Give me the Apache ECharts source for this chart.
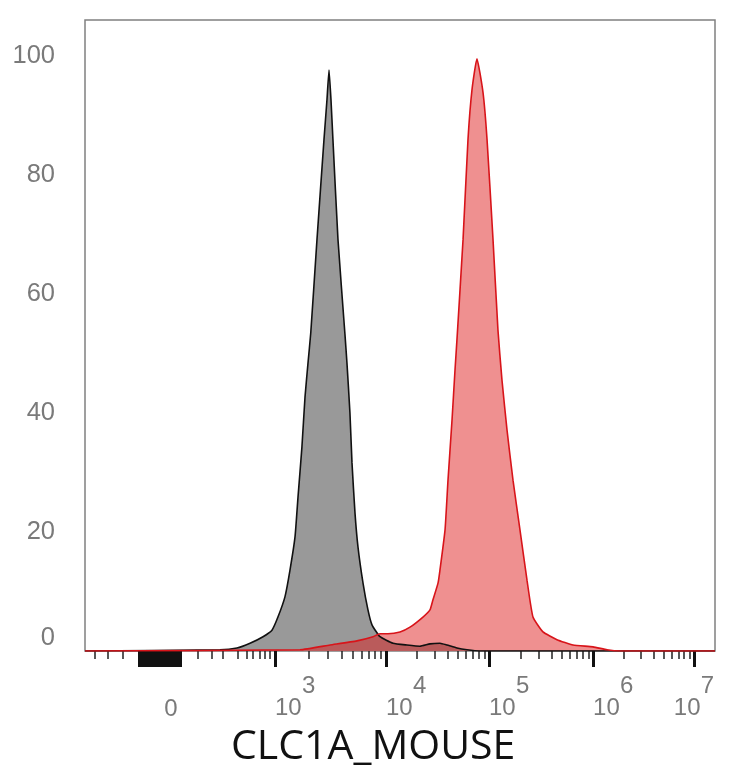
<!DOCTYPE html>
<html>
<head>
<meta charset="utf-8">
<title>CLC1A_MOUSE</title>
<script src="https://cdn.jsdelivr.net/npm/echarts@6.0.0/dist/echarts.min.js"></script>
<style>
    html, body { margin: 0; padding: 0; background: #fff; }
    #chart { width: 734px; height: 768px; }
</style>
</head>
<body>
<div id="chart"></div>
<script>
// x is in decades on the display scale (10^3 -> 3), y is % of max
var isoX = [1.078, 2.388, 2.553, 2.680, 2.806, 2.893, 2.951, 3.019, 3.068, 3.117, 3.146, 3.184, 3.214, 3.243, 3.270, 3.330, 3.398, 3.427, 3.447, 3.466, 3.485, 3.534, 3.602, 3.621, 3.650, 3.670, 3.699, 3.728, 3.777, 3.825, 3.864, 3.942, 4.068, 4.204, 4.330, 4.427, 4.524, 4.592, 4.689, 4.786, 4.913, 7.194];
var isoY = [0, 0.2, 0.5, 1.3, 2.4, 3.5, 5.7, 9.1, 13.6, 19.2, 25.9, 34.3, 42.7, 48.4, 53.5, 69.1, 85.9, 92.6, 97.6, 92.6, 85.9, 69.1, 53.1, 48.4, 40.0, 31.6, 23.2, 17.5, 11.4, 6.9, 4.4, 2.4, 1.3, 1.0, 0.8, 1.2, 1.3, 1.0, 0.5, 0.2, 0, 0];

var stainX = [1.078, 3.165, 3.456, 3.718, 3.874, 3.942, 4.019, 4.136, 4.233, 4.359, 4.427, 4.456, 4.505, 4.524, 4.573, 4.602, 4.641, 4.670, 4.689, 4.748, 4.796, 4.835, 4.883, 4.942, 4.981, 5.039, 5.087, 5.126, 5.175, 5.233, 5.301, 5.369, 5.427, 5.524, 5.660, 5.816, 6.010, 6.146, 6.272, 7.194];
var stainY = [0, 0.2, 1.0, 1.7, 2.4, 2.9, 2.9, 3.2, 4.0, 5.7, 6.9, 8.6, 11.4, 13.6, 20.3, 28.7, 38.8, 47.2, 52.3, 69.1, 85.9, 94.3, 99.5, 93.8, 85.9, 69.1, 53.9, 45.5, 37.1, 28.7, 20.3, 11.9, 5.7, 3.2, 1.9, 1.0, 0.7, 0.2, 0, 0];

// biexponential axis: where 0 and each decade sit
var zeroPos = 1.913;
var decadePos = [2.922, 4, 5, 6.01, 6.99];
var decadeExp = ['3', '4', '5', '6', '7'];
var negTicks = [1.175, 1.301, 1.447];
var linTicks = [2.175, 2.311, 2.417, 2.563, 2.650, 2.709, 2.777, 2.825, 2.874];
var xMin = 1.078, xMax = 7.194;

var chart = echarts.init(document.getElementById('chart'));

function pairs(xs, ys) {
    var out = [];
    for (var i = 0; i < xs.length; i++) out.push([xs[i], ys[i]]);
    return out;
}

// minor ticks: log steps inside each decade (first decade is stretched a bit)
var minorTicks = negTicks.concat(linTicks);
for (var k = 2; k <= 9; k++) {
    for (var d = 0; d < decadePos.length - 1; d++) {
        minorTicks.push(decadePos[d] + Math.log10(k) * (decadePos[d + 1] - decadePos[d]));
    }
}
// dense block of ticks around zero
var bigTicks = decadePos.slice();
for (var t = 1.60; t <= 2.0; t += 0.025) bigTicks.push(+t.toFixed(3));

var labelGray = '#7a7a7a';
var labelFont = 'Liberation Sans, Arial, sans-serif';

var option = {
    animation: false,
    grid: {
        left: 85, right: 19, top: 20, bottom: 117,
        outerBoundsMode: 'none',
        show: true, borderColor: '#808080', borderWidth: 1.5,
        backgroundColor: '#fff'
    },
    graphic: [{
        type: 'text',
        left: 231,
        top: 727,
        style: {
            text: 'CLC1A_MOUSE',
            font: '41px "Open Sans", "Noto Sans", sans-serif',
            fill: '#111'
        }
    }],
    xAxis: [{
        type: 'value', min: xMin, max: xMax, position: 'bottom',
        axisLine: { show: false },
        splitLine: { show: false },
        axisTick: {
            show: true, customValues: minorTicks, length: 8,
            lineStyle: { color: '#222', width: 1.5 }
        },
        axisLabel: {
            customValues: [zeroPos], margin: 46,
            formatter: function () { return '0'; },
            fontFamily: labelFont, fontSize: 24, color: labelGray
        }
    }, {
        type: 'value', min: xMin, max: xMax, position: 'bottom',
        axisLine: { show: false },
        splitLine: { show: false },
        axisTick: {
            show: true, customValues: bigTicks, length: 16,
            lineStyle: { color: '#111', width: 3 }
        },
        axisLabel: {
            customValues: decadePos, margin: 24, align: 'left',
            alignMaxLabel: 'center',
            formatter: function (v) {
                var i = decadePos.indexOf(v);
                return '{e|' + decadeExp[i] + '}\n{n|10}';
            },
            rich: {
                e: { fontFamily: labelFont, fontSize: 24, color: labelGray, lineHeight: 22, align: 'left', padding: [0, 0, 0, 27] },
                n: { fontFamily: labelFont, fontSize: 24, color: labelGray, lineHeight: 22, align: 'left' }
            }
        }
    }],
    yAxis: {
        type: 'value', min: 0, max: 106, interval: 20,
        axisLine: { show: false },
        axisTick: { show: false },
        splitLine: { show: false },
        axisLabel: {
            margin: 30, showMaxLabel: false,
            verticalAlignMinLabel: 'bottom',
            fontFamily: labelFont, fontSize: 25.5, color: labelGray
        }
    },
    series: [{
        name: 'Isotype',
        type: 'line',
        xAxisIndex: 0,
        data: pairs(isoX, isoY),
        symbol: 'none',
        smooth: 0.15,
        lineStyle: { color: '#111', width: 1.6 },
        areaStyle: { color: '#999999', opacity: 1 }
    }, {
        name: 'CLC1A',
        type: 'line',
        xAxisIndex: 0,
        data: pairs(stainX, stainY),
        symbol: 'none',
        smooth: 0.15,
        lineStyle: { color: '#d8141a', width: 1.6 },
        areaStyle: { color: 'rgba(222, 22, 22, 0.48)', opacity: 1 }
    }]
};

chart.setOption(option);
</script>
</body>
</html>
